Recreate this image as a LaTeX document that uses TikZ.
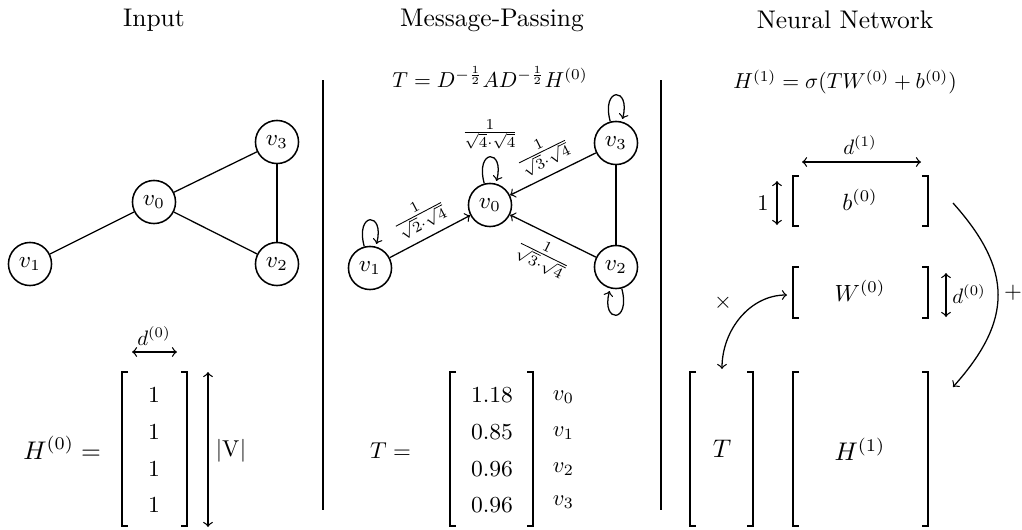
\documentclass[tikz,border=0pt]{standalone}
\usepackage{amsmath}
\newcommand{\mybrackets}[4]{%
  \draw[brk] (#1+6,#3) -- (#1,#3) -- (#1,#4) -- (#1+6,#4);
  \draw[brk] (#2-6,#3) -- (#2,#3) -- (#2,#4) -- (#2-6,#4);}
\begin{document}
\begin{tikzpicture}[x=0.3922pt,y=-0.3922pt,
  fsmall/.style={scale=0.85},
  vert/.style={circle,draw,semithick,inner sep=0pt,minimum size=16.9pt,font=\small},
  edg/.style={line width=0.5pt},
  brk/.style={line width=0.8pt},
  dimarr/.style={<->,line width=0.5pt},
  dimlbl/.style={scale=0.82},
  entry/.style={font=\small},
  rowlbl/.style={scale=0.88}]
\useasboundingbox (0,0) rectangle (1022,529);

% titles
\node (t1) at (154,20) {Input};
\node (t2) at (492,20) {Message-Passing};
\node (t3) at (845,20) {Neural Network};

% separators
\coordinate (s1a) at (323,80); \coordinate (s1b) at (323,510);
\coordinate (s2a) at (661,80); \coordinate (s2b) at (661,510);
\draw (s1a) -- (s1b);
\draw (s2a) -- (s2b);

% input graph
\node[vert] (a0) at (154,202) {$v_0$};
\node[vert] (a1) at (30,264) {$v_1$};
\node[vert] (a2) at (277,264) {$v_2$};
\node[vert] (a3) at (277,142) {$v_3$};
\draw[edg] (a1) -- (a0);
\draw[edg] (a0) -- (a3);
\draw[edg] (a0) -- (a2);
\draw[edg] (a3) -- (a2);

% input matrix
\node[anchor=base east] (h0eq) at (110,459) {$H^{(0)} =$};
\mybrackets{122}{187}{372}{526}
\node[entry] (e1) at (154,395) {$1$};
\node[entry] (e2) at (154,432) {$1$};
\node[entry] (e3) at (154,469) {$1$};
\node[entry] (e4) at (154,505) {$1$};
\coordinate (d0l) at (132,352); \coordinate (d0r) at (177,352);
\draw[dimarr] (d0l) -- (d0r);
\node[dimlbl] (d0lbl) at (154,336) {$d^{(0)}$};
\coordinate (vt) at (208,372); \coordinate (vb) at (208,527);
\draw[dimarr] (vt) -- (vb);
\node[scale=0.9] (vlbl) at (231,451) {$|\mathrm{V}|$};

% message passing
\node[fsmall] (tform) at (490,77) {$T = D^{-\frac{1}{2}}AD^{-\frac{1}{2}}H^{(0)}$};
\node[vert] (b0) at (490,205) {$v_0$};
\node[vert] (b1) at (370,268) {$v_1$};
\node[vert] (b2) at (616,267) {$v_2$};
\node[vert] (b3) at (616,143) {$v_3$};
\draw[edg,->] (b1) -- node[above,sloped,fsmall] {$\frac{1}{\sqrt{2}\cdot\sqrt{4}}$} (b0);
\draw[edg,->] (b3) -- node[above,sloped,fsmall] {$\frac{1}{\sqrt{3}\cdot\sqrt{4}}$} (b0);
\draw[edg,->] (b2) -- node[below,sloped,fsmall] {$\frac{1}{\sqrt{3}\cdot\sqrt{4}}$} (b0);
\draw[edg] (b3) -- (b2);
\path[edg,->] (b0) edge[loop above] node[above,fsmall] {$\frac{1}{\sqrt{4}\cdot\sqrt{4}}$} (b0);
\path[edg,->] (b1) edge[loop above] (b1);
\path[edg,->] (b3) edge[loop above] (b3);
\path[edg,->] (b2) edge[loop below] (b2);

% T matrix
\node[anchor=base east,scale=0.9] (teq) at (419,458) {$T =$};
\mybrackets{450}{533}{372}{526}
\node[entry] (f1) at (492,395) {$1.18$};
\node[entry] (f2) at (492,432) {$0.85$};
\node[entry] (f3) at (492,469) {$0.96$};
\node[entry] (f4) at (492,505) {$0.96$};
\node[rowlbl,anchor=west] (g1) at (545,397) {$v_0$};
\node[rowlbl,anchor=west] (g2) at (545,433) {$v_1$};
\node[rowlbl,anchor=west] (g3) at (545,469) {$v_2$};
\node[rowlbl,anchor=west] (g4) at (545,502) {$v_3$};

% neural network
\node[fsmall] (hform) at (845,82) {$H^{(1)} = \sigma(TW^{(0)}+b^{(0)})$};
\mybrackets{793}{928}{176}{226}
\node[scale=0.92] (bl) at (860,200) {$b^{(0)}$};
\mybrackets{793}{928}{267}{318}
\node[scale=0.92] (wl) at (860,291) {$W^{(0)}$};
\mybrackets{690}{753}{372}{526}
\node (tl) at (722,449) {$T$};
\mybrackets{793}{928}{372}{526}
\node (hl) at (860,449) {$H^{(1)}$};

\coordinate (d1l) at (802,162); \coordinate (d1r) at (921,162);
\draw[dimarr] (d1l) -- (d1r);
\node[dimlbl] (d1lbl) at (860,145) {$d^{(1)}$};
\coordinate (ot) at (777,181); \coordinate (ob) at (777,225);
\draw[dimarr] (ot) -- (ob);
\node[rowlbl] (onelbl) at (763,203) {$1$};
\coordinate (wt) at (946,273); \coordinate (wb) at (946,317);
\draw[dimarr] (wt) -- (wb);
\node[dimlbl] (d0w) at (969,294) {$d^{(0)}$};

\coordinate (plusa) at (953,203); \coordinate (plusb) at (953,387);
\draw[line width=0.5pt,->] (plusa) .. controls (1013,270) and (1013,320) .. (plusb);
\node[scale=0.9] (plus) at (1013,293) {$+$};
\coordinate (ttop) at (722,369); \coordinate (wleft) at (787,295);
\draw[line width=0.5pt,<->] (ttop) .. controls (722,330) and (750,295) .. (wleft);
\node[scale=0.9] (times) at (723,303) {$\times$};
\end{tikzpicture}
\end{document}
